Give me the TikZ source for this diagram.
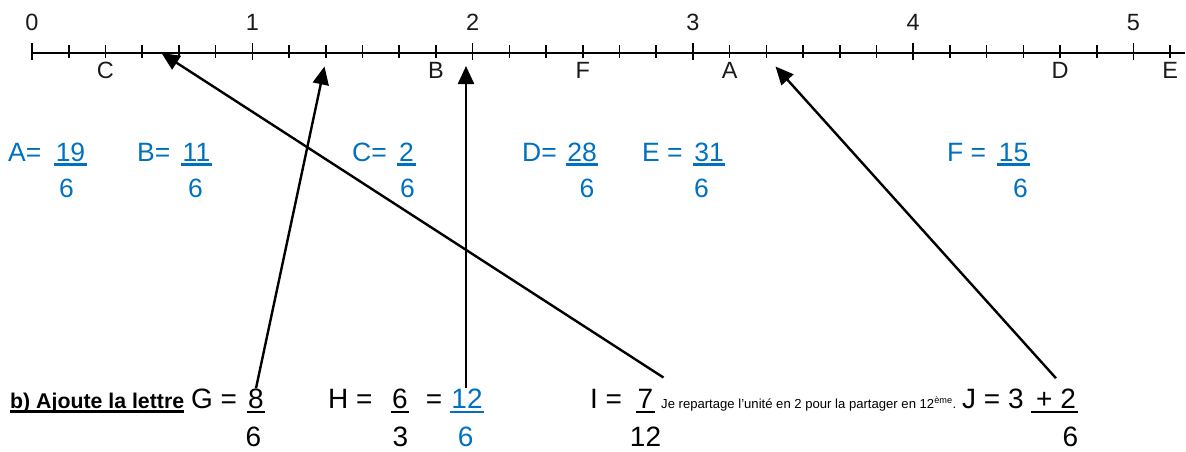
\documentclass[tikz,border=0pt]{standalone}
\usepackage{fontspec}
\setmainfont{Liberation Sans}
\usepackage{tikz}
\usetikzlibrary{arrows.meta,calc}
\definecolor{wordblue}{HTML}{0070C0}
\definecolor{inkgray}{HTML}{1A1A1A}
\newcommand{\fsz}[1]{\fontsize{#1}{#1}\selectfont}

\begin{document}
\begin{tikzpicture}[x=1pt,y=-1pt,
  graduation/.style={font=\fsz{23.5},text=inkgray},
  fracblue/.style={font=\fsz{26.5},text=wordblue,inner sep=0pt,anchor=base},
  fracblack/.style={font=\fsz{28},text=black,inner sep=0pt,anchor=base},
  barre/.style={line width=2.6pt},
  fleche/.style={line width=2.4pt,-{Triangle[length=18pt,width=16pt]}}]

  \useasboundingbox (0,0) rectangle (1186,451);

  % Droite graduee
  \draw[line width=2pt] (32,52.7) -- (1185,52.7);
  \foreach \i in {0,...,31} {
    \pgfmathsetmacro{\xx}{32+\i*220.3/6}
    \draw[line width=1.6pt] (\xx,45) -- (\xx,58);
  }
  \foreach \n in {0,...,5} {
    \draw[line width=1.6pt] ({32+\n*220.3},43.3) -- ({32+\n*220.3},60);
    \node[graduation] (n\n) at ({32+\n*220.3},22.5) {\n};
  }
  \foreach \lettre/\pos in {C/2, B/11, F/15, A/19, D/28, E/31}
    \node[graduation] (pt-\lettre) at ({32+\pos*220.3/6},70.5) {\lettre};

  % Fractions A a F
  \foreach \nom/\lab/\xl/\num/\xn/\xd in {a/A=/8/19/70.5/66.5, b/B=/137/11/196.5/195.5,
      c/C=/352/2/406.5/407.5, d/D=/522/28/582/587, e/E =/642/31/709/701.5,
      f/F =/947/15/1013.5/1020.5} {
    \node[fracblue,anchor=base west] (\nom-lab) at (\xl,161) {\lab};
    \node[fracblue] (\nom-num) at (\xn,161) {\num};
    \node[fracblue] (\nom-den) at (\xd,197) {6};
    \draw[barre,wordblue] ([xshift=-1.5pt,yshift=-3.5pt]\nom-num.base west)
      -- ([xshift=1.5pt,yshift=-3.5pt]\nom-num.base east);
  }

  % Consigne b)
  \node[font=\bfseries\fsz{21.3},anchor=base west,inner sep=0pt] (consigne) at (10,408)
       {b) Ajoute la lettre};
  \draw[line width=2.4pt] ([yshift=-3.5pt]consigne.base west) -- ([yshift=-3.5pt]consigne.base east);

  % G, H, I, J
  \node[fracblack,anchor=base west] (g-lab) at (191,408) {G =};
  \node[fracblack] (g-num) at (256,408) {8};
  \node[fracblack] (g-den) at (253.5,446) {6};

  \node[fracblack,anchor=base west] (h-lab) at (328,408) {H =};
  \node[fracblack] (h-num) at (400,408) {6};
  \node[fracblack] (h-den) at (400.5,446) {3};
  \node[fracblack] (h-eq) at (434,408) {=};
  \node[fracblack,text=wordblue] (h-num2) at (467,408) {12};
  \node[fracblack,text=wordblue] (h-den2) at (465.6,446) {6};
  \draw[barre,wordblue] ([xshift=-1.5pt,yshift=-4pt]h-num2.base west)
    -- ([xshift=1.5pt,yshift=-4pt]h-num2.base east);

  \node[fracblack,anchor=base west] (i-lab) at (590,408) {I =};
  \node[fracblack] (i-num) at (645.5,408) {7};
  \node[fracblack] (i-den) at (645.5,446) {12};
  \node[font=\fsz{13.1},anchor=base west,inner sep=0pt] (remarque) at (661,408)
       {Je repartage l’unité en 2 pour la partager en 12\textsuperscript{ème}.};

  \node[fracblack,anchor=base west] (j-lab) at (962,408) {J = 3};
  \node[fracblack] (j-num) at (1056,408) {+ 2};
  \node[fracblack] (j-den) at (1070.5,446) {6};

  \foreach \nom in {g-num,h-num,i-num}
    \draw[barre] ([xshift=-1.5pt,yshift=-4pt]\nom.base west)
      -- ([xshift=1.5pt,yshift=-4pt]\nom.base east);
  \draw[barre] ([xshift=-5pt,yshift=-4pt]j-num.base west)
    -- ([xshift=2pt,yshift=-4pt]j-num.base east);

  % Fleches vers la droite
  \coordinate (cible-G) at (324.5,66.5);
  \coordinate (cible-H) at (466,66);
  \coordinate (cible-I) at (161.5,53);
  \coordinate (cible-J) at (775.5,66.5);
  \draw[fleche] (g-num.north) -- (cible-G);
  \draw[fleche] (h-num2.north -| cible-H) -- (cible-H);
  \draw[fleche] ([xshift=10pt,yshift=11pt]i-num.north east) -- (cible-I);
  \draw[fleche] ([yshift=10pt]j-num.north) -- (cible-J);

\end{tikzpicture}
\end{document}
